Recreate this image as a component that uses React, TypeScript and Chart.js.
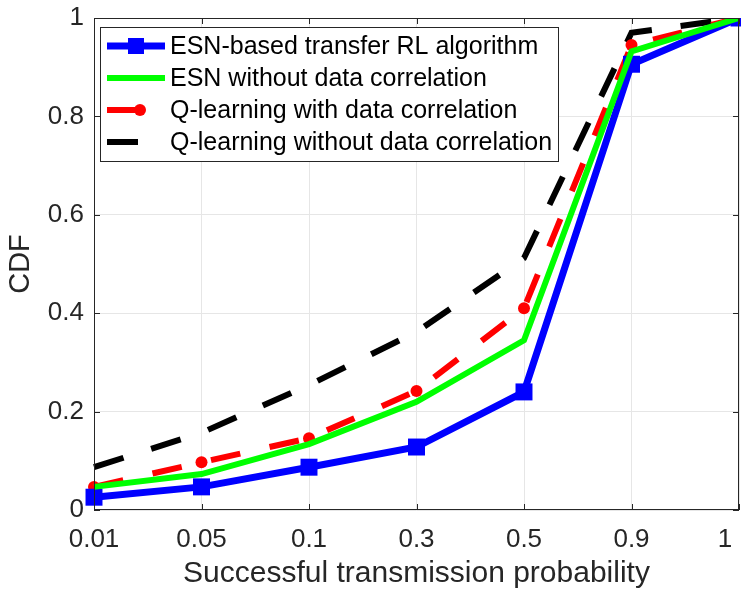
import React, { useEffect, useRef } from "react";
import { Chart, registerables } from "chart.js";

Chart.register(...registerables);

const categories = ["0.01", "0.05", "0.1", "0.3", "0.5", "0.9", "1"];
const esnTransfer = [0.026, 0.047, 0.087, 0.128, 0.24, 0.906, 1.0];
const esnNoCorr = [0.047, 0.073, 0.134, 0.22, 0.345, 0.932, 1.0];
const qWithCorr = [0.047, 0.097, 0.146, 0.242, 0.41, 0.945, 1.0];
const qNoCorr = [0.087, 0.157, 0.254, 0.362, 0.512, 0.97, 1.0];
const seriesNames = [
  "ESN-based transfer RL algorithm",
  "ESN without data correlation",
  "Q-learning with data correlation",
  "Q-learning without data correlation",
];
const yTicks = [0, 0.2, 0.4, 0.6, 0.8, 1];

const FONT = "'Liberation Sans', Arial, sans-serif";
const TXT = "#262626";

const AREA = { left: 94, top: 18, right: 739, bottom: 510 };

const areaPlugin = {
  id: "fixArea",
  afterLayout(chart: any) {
    const ca = chart.chartArea;
    ca.left = AREA.left;
    ca.right = AREA.right;
    ca.top = AREA.top;
    ca.bottom = AREA.bottom;
    ca.width = AREA.right - AREA.left;
    ca.height = AREA.bottom - AREA.top;
    const x = chart.scales.x;
    x.left = AREA.left;
    x.right = AREA.right;
    x.width = AREA.right - AREA.left;
    x.top = AREA.bottom;
    x.bottom = 594;
    x.height = 594 - AREA.bottom;
    x.configure();
    if (!x.__shifted) {
      const orig = x._computeLabelItems.bind(x);
      x._computeLabelItems = (ca2: any) => {
        const items = orig(ca2);
        const last = items[items.length - 1];
        if (last && last.options && last.options.translation) {
          last.options.translation = [last.options.translation[0] - 14, last.options.translation[1]];
        }
        return items;
      };
      x.__shifted = true;
    }
    const y = chart.scales.y;
    y.top = AREA.top;
    y.bottom = AREA.bottom;
    y.height = AREA.bottom - AREA.top;
    y.left = 0;
    y.right = AREA.left;
    y.width = AREA.left;
    y.configure();
  },
};

const framePlugin = {
  id: "frame",
  afterDraw(chart: any) {
    const { ctx, chartArea: a, scales } = chart;
    ctx.save();
    ctx.strokeStyle = TXT;
    ctx.lineWidth = 1;
    ctx.strokeRect(a.left + 0.5, a.top + 0.5, a.right - a.left - 1, a.bottom - a.top - 1);
    const tl = 6;
    ctx.beginPath();
    categories.forEach((_, i) => {
      const x = Math.round(scales.x.getPixelForValue(i)) + 0.5;
      ctx.moveTo(x, a.bottom);
      ctx.lineTo(x, a.bottom - tl);
      ctx.moveTo(x, a.top);
      ctx.lineTo(x, a.top + tl);
    });
    yTicks.forEach((v) => {
      const y = Math.round(scales.y.getPixelForValue(v)) + 0.5;
      ctx.moveTo(a.left, y);
      ctx.lineTo(a.left + tl, y);
      ctx.moveTo(a.right, y);
      ctx.lineTo(a.right - tl, y);
    });
    ctx.stroke();
    ctx.restore();
  },
};

const legendPlugin = {
  id: "boxLegend",
  afterDraw(chart: any) {
    const { ctx } = chart;
    const bx = 100, by = 27, bw = 458, bh = 134;
    ctx.save();
    ctx.fillStyle = "#ffffff";
    ctx.fillRect(bx, by, bw, bh);
    ctx.strokeStyle = TXT;
    ctx.lineWidth = 1;
    ctx.strokeRect(bx + 0.5, by + 0.5, bw, bh);
    const rows = [46, 78, 110, 142];
    const ds = chart.data.datasets;
    ctx.font = `25px ${FONT}`;
    ctx.textBaseline = "middle";
    ctx.textAlign = "left";
    rows.forEach((y, i) => {
      const d = ds[i];
      ctx.strokeStyle = d.borderColor;
      ctx.lineWidth = d.borderWidth;
      ctx.setLineDash([]);
      ctx.lineCap = "butt";
      ctx.beginPath();
      const x0 = 107;
      let x1 = 165;
      if (i === 2) x1 = 140;
      if (i === 3) x1 = 138;
      ctx.moveTo(x0, y);
      ctx.lineTo(x1, y);
      ctx.stroke();
      if (i === 0) {
        ctx.fillStyle = d.borderColor;
        ctx.fillRect(136 - 8, y - 8, 16, 16);
      }
      if (i === 2) {
        ctx.fillStyle = d.borderColor;
        ctx.beginPath();
        ctx.arc(140, y, 6, 0, Math.PI * 2);
        ctx.fill();
      }
      ctx.fillStyle = "#000000";
      ctx.fillText(seriesNames[i], 170, y + 1);
    });
    ctx.restore();
  },
};

export default function App() {
  const ref = useRef<HTMLCanvasElement | null>(null);
  useEffect(() => {
    document.body.style.margin = "0";
    const canvas = ref.current!;
    const chart = new Chart(canvas, {
      type: "line",
      data: {
        labels: categories,
        datasets: [
          {
            label: seriesNames[0],
            data: esnTransfer,
            borderColor: "#0000ff",
            backgroundColor: "#0000ff",
            borderWidth: 7,
            pointStyle: "rect",
            pointRadius: 12,
            pointBorderWidth: 0,
            order: 1,
          },
          {
            label: seriesNames[1],
            data: esnNoCorr,
            borderColor: "#00ff00",
            backgroundColor: "#00ff00",
            borderWidth: 6,
            pointRadius: 0,
            order: 0,
          },
          {
            label: seriesNames[2],
            data: qWithCorr,
            borderColor: "#ff0000",
            backgroundColor: "#ff0000",
            borderWidth: 6,
            borderDash: [30, 30],
            pointStyle: "circle",
            pointRadius: 6,
            pointBorderWidth: 0,
            order: 2,
          },
          {
            label: seriesNames[3],
            data: qNoCorr,
            borderColor: "#000000",
            backgroundColor: "#000000",
            borderWidth: 6,
            borderDash: [31, 29],
            pointRadius: 0,
            order: 3,
          },
        ],
      },
      options: {
        animation: false,
        responsive: false,
        layout: { padding: { top: 18, right: 2, left: 0, bottom: 0 } },
        plugins: {
          legend: { display: false },
          tooltip: { enabled: false },
        },
        elements: { line: { tension: 0, borderCapStyle: "butt", borderJoinStyle: "miter" } },
        scales: {
          x: {
            type: "category",
            offset: false,
            grid: { color: "#e6e6e6", lineWidth: 1, drawTicks: false },
            border: { display: false },
            ticks: {
              color: TXT,
              font: { family: FONT, size: 26 },
              padding: 14,
              maxRotation: 0,
              autoSkip: false,
            },
            title: {
              display: true,
              text: "Successful transmission probability",
              color: TXT,
              font: { family: FONT, size: 30 },
              padding: { top: 0, bottom: 2 },
            },
          },
          y: {
            min: 0,
            max: 1,
            grid: { color: "#e6e6e6", lineWidth: 1, drawTicks: false },
            border: { display: false },
            afterBuildTicks(scale: any) {
              scale.ticks = yTicks.map((v) => ({ value: v }));
            },
            ticks: {
              color: TXT,
              font: { family: FONT, size: 26 },
              padding: 10,
              callback: (v: any) => String(Number(v)),
            },
            title: {
              display: true,
              text: "CDF",
              color: TXT,
              font: { family: FONT, size: 29 },
              padding: { top: 4, bottom: 0 },
            },
          },
        },
      },
      plugins: [areaPlugin, framePlugin, legendPlugin],
    } as any);
    return () => chart.destroy();
  }, []);
  return (
    <div style={{ position: "absolute", left: 0, top: 0, width: 741, height: 594, background: "#fff" }}>
      <canvas ref={ref} width={741} height={594} style={{ width: 741, height: 594, display: "block" }} />
    </div>
  );
}
